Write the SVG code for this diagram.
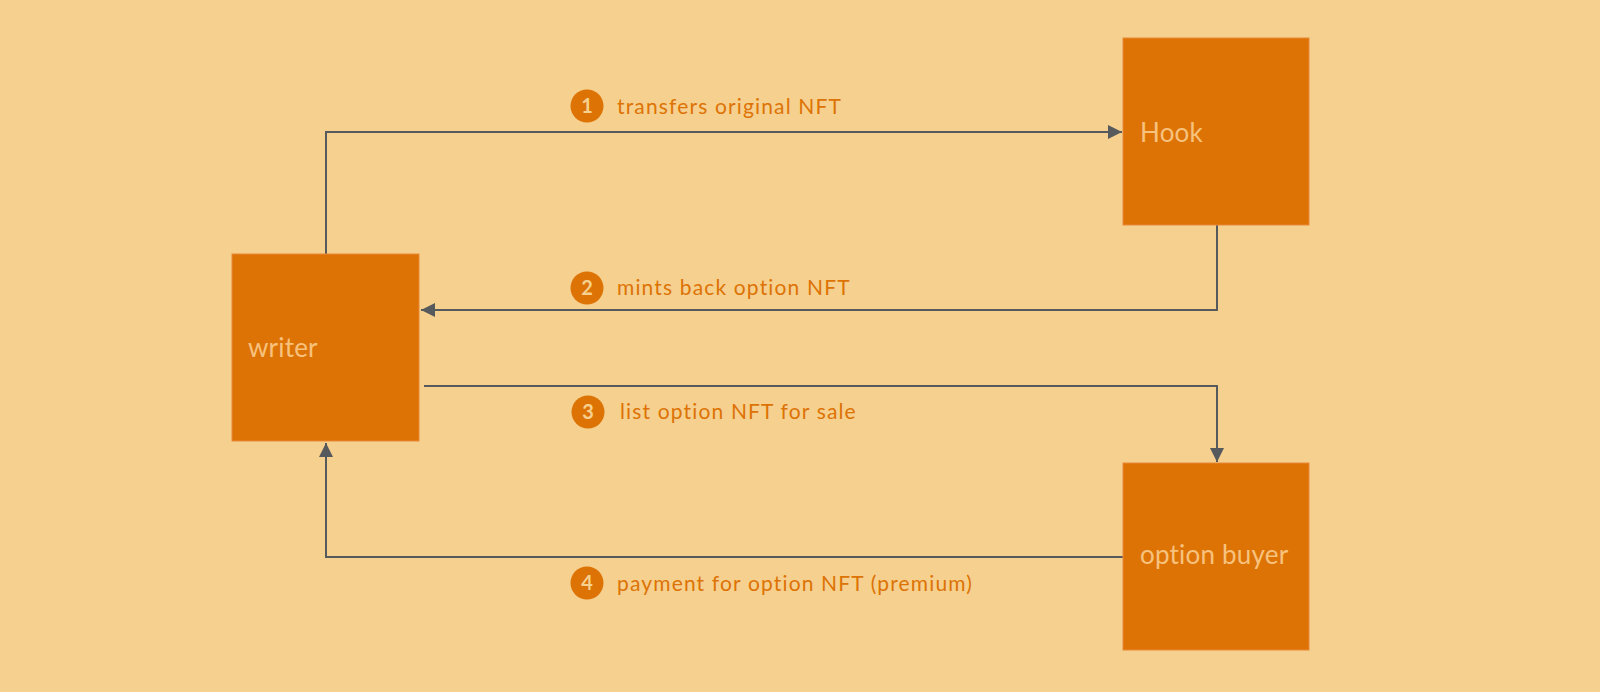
<svg xmlns="http://www.w3.org/2000/svg" width="1600" height="692" viewBox="0 0 1600 692">
<style>
.box{fill:#dd7305;stroke:#e8893a;stroke-width:1}
.name{font-family:"Lato","Liberation Sans",sans-serif;font-size:26px;letter-spacing:0.2px;fill:#f7c27e}
.lbl{font-family:"Lato","Liberation Sans",sans-serif;font-size:21px;letter-spacing:1.15px;fill:#dd7305}
.badge{fill:#dd7305}
.num{font-family:"Lato","Liberation Sans",sans-serif;font-size:20px;font-weight:bold;fill:#f6d08e;text-anchor:middle}
.conn{fill:none;stroke:#575a5c;stroke-width:2}
</style>
<defs>
<marker id="ah" viewBox="0 0 14 14" refX="14" refY="7" markerWidth="14" markerHeight="14" markerUnits="userSpaceOnUse" orient="auto">
<path d="M0,0 L14,7 L0,14 Z" fill="#575a5c"/>
</marker>
</defs>
<rect width="1600" height="692" fill="#f6d08e"/>
<g id="connectors">
<path class="conn" d="M326,254 V132 H1122" marker-end="url(#ah)"/>
<path class="conn" d="M1217,225 V310 H421" marker-end="url(#ah)"/>
<path class="conn" d="M424,386 H1217 V462" marker-end="url(#ah)"/>
<path class="conn" d="M1123,557 H326 V443" marker-end="url(#ah)"/>
</g>
<g id="hook"><rect class="box" x="1123" y="38" width="186" height="187"/><text class="name" x="1140" y="142">Hook</text></g>
<g id="writer"><rect class="box" x="232" y="254" width="187" height="187"/><text class="name" x="248" y="357">writer</text></g>
<g id="buyer"><rect class="box" x="1123" y="463" width="186" height="187"/><text class="name" x="1140" y="564">option buyer</text></g>
<g id="label1"><circle class="badge" cx="587" cy="106" r="16.5"/><text class="num" x="587" y="113">1</text><text class="lbl" x="617" y="114">transfers original NFT</text></g>
<g id="label2"><circle class="badge" cx="587" cy="288" r="16.5"/><text class="num" x="587" y="295">2</text><text class="lbl" x="617" y="295">mints back option NFT</text></g>
<g id="label3"><circle class="badge" cx="588" cy="412" r="16.5"/><text class="num" x="588" y="419">3</text><text class="lbl" x="620" y="419">list option NFT for sale</text></g>
<g id="label4"><circle class="badge" cx="587" cy="583" r="16.5"/><text class="num" x="587" y="590">4</text><text class="lbl" x="617" y="591">payment for option NFT (premium)</text></g>
</svg>
